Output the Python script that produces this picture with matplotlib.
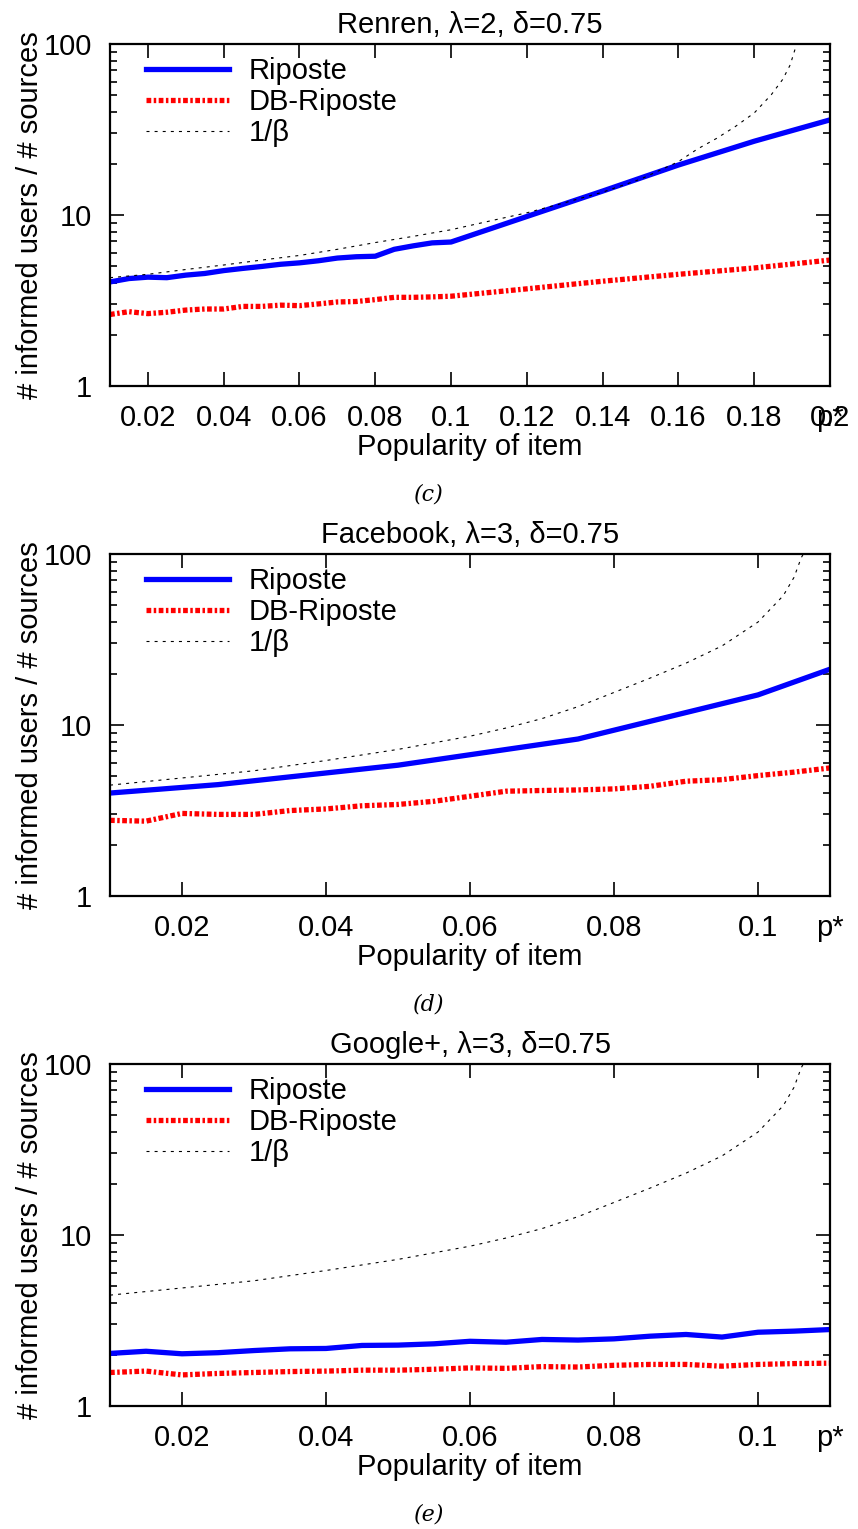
import numpy as np
import matplotlib
matplotlib.use("Agg")
import matplotlib.pyplot as plt
from matplotlib.ticker import FixedLocator, NullFormatter, LogLocator

plt.rcParams['font.family'] = ['Liberation Sans', 'DejaVu Sans']

# Renren, lambda=2
ren_x = [0.01, 0.015, 0.02, 0.025, 0.03, 0.035, 0.04, 0.045, 0.05, 0.055, 0.06, 0.065,
         0.07, 0.075, 0.08, 0.085, 0.09, 0.095, 0.1, 0.12, 0.14, 0.16, 0.18, 0.2]
ren_riposte = [4.06, 4.25, 4.33, 4.3, 4.45, 4.55, 4.73, 4.87, 5.0, 5.15, 5.25, 5.4,
               5.6, 5.7, 5.74, 6.3, 6.6, 6.87, 6.95, 9.8, 13.8, 19.6, 27.0, 36.0]
ren_db = [2.62, 2.72, 2.65, 2.7, 2.78, 2.82, 2.82, 2.92, 2.92, 2.97, 2.95, 3.02,
          3.1, 3.12, 3.2, 3.3, 3.3, 3.32, 3.35, 3.7, 4.1, 4.5, 4.9, 5.45]
ren_beta_x = [0.01, 0.02, 0.03, 0.04, 0.05, 0.06, 0.07, 0.08, 0.09, 0.1, 0.11, 0.12,
              0.13, 0.14, 0.15, 0.16, 0.165, 0.17, 0.175, 0.18, 0.1845, 0.1875, 0.1895, 0.1912]
ren_beta = [4.3, 4.5, 4.8, 5.1, 5.45, 5.8, 6.3, 6.9, 7.5, 8.2, 9.2, 10.3,
            11.8, 13.6, 16.2, 20.5, 24.3, 28.0, 32.9, 39.5, 50.5, 62.0, 75.5, 100.0]

# Facebook, lambda=3
fb_x = [0.01, 0.025, 0.05, 0.075, 0.1, 0.11]
fb_riposte = [4.0, 4.48, 5.82, 8.28, 15.0, 21.2]
fb_db_x = [0.01, 0.015, 0.02, 0.025, 0.03, 0.035, 0.04, 0.045, 0.05, 0.055, 0.06,
           0.065, 0.07, 0.075, 0.08, 0.085, 0.09, 0.095, 0.1, 0.105, 0.11]
fb_db = [2.77, 2.74, 3.04, 3.0, 3.0, 3.16, 3.23, 3.37, 3.43, 3.58, 3.83,
         4.1, 4.14, 4.17, 4.23, 4.38, 4.69, 4.79, 5.06, 5.3, 5.61]

# 1/beta for lambda=3 (Facebook and Google+)
l3_beta_x = [0.01, 0.02, 0.03, 0.04, 0.05, 0.06, 0.065, 0.07, 0.075, 0.08, 0.085,
             0.09, 0.095, 0.1, 0.1035, 0.105, 0.106, 0.1063]
l3_beta = [4.45, 4.9, 5.4, 6.2, 7.2, 8.6, 9.6, 10.9, 12.8, 15.5, 18.8,
           23.0, 29.0, 40.0, 57.0, 73.0, 95.0, 100.0]

# Google+, lambda=3
gp_x = [0.01, 0.015, 0.02, 0.025, 0.03, 0.035, 0.04, 0.045, 0.05, 0.055, 0.06,
        0.065, 0.07, 0.075, 0.08, 0.085, 0.09, 0.095, 0.1, 0.105, 0.11]
gp_riposte = [2.03, 2.09, 2.02, 2.05, 2.11, 2.16, 2.17, 2.26, 2.27, 2.31, 2.39,
              2.36, 2.45, 2.43, 2.47, 2.56, 2.62, 2.53, 2.7, 2.74, 2.8]
gp_db = [1.57, 1.6, 1.52, 1.55, 1.57, 1.59, 1.6, 1.62, 1.62, 1.64, 1.67,
         1.66, 1.7, 1.69, 1.73, 1.75, 1.75, 1.71, 1.75, 1.77, 1.78]

panels = [
    dict(title='Renren, λ=2, δ=0.75', tag='(c)', xmax=0.2,
         xticks=[0.02, 0.04, 0.06, 0.08, 0.1, 0.12, 0.14, 0.16, 0.18, 0.2],
         xlabels=['0.02', '0.04', '0.06', '0.08', '0.1', '0.12', '0.14', '0.16', '0.18', '0.2'],
         rx=ren_x, ry=ren_riposte, dx=ren_x, dy=ren_db, bx=ren_beta_x, by=ren_beta),
    dict(title='Facebook, λ=3, δ=0.75', tag='(d)', xmax=0.11,
         xticks=[0.02, 0.04, 0.06, 0.08, 0.1],
         xlabels=['0.02', '0.04', '0.06', '0.08', '0.1'],
         rx=fb_x, ry=fb_riposte, dx=fb_db_x, dy=fb_db, bx=l3_beta_x, by=l3_beta),
    dict(title='Google+, λ=3, δ=0.75', tag='(e)', xmax=0.11,
         xticks=[0.02, 0.04, 0.06, 0.08, 0.1],
         xlabels=['0.02', '0.04', '0.06', '0.08', '0.1'],
         rx=gp_x, ry=gp_riposte, dx=gp_x, dy=gp_db, bx=l3_beta_x, by=l3_beta),
]

fig = plt.figure(figsize=(8.58, 15.29), dpi=100)
W, H = 858, 1529
tops = [44, 554, 1064]
fs = 21

for p, top in zip(panels, tops):
    ax = fig.add_axes([110 / W, (H - top - 342) / H, 720 / W, 342 / H])
    ax.plot(p['rx'], p['ry'], color='#0000ff', lw=3.8, label='Riposte', solid_joinstyle='round')
    ax.plot(p['dx'], p['dy'], color='#ff0000', lw=3.8, dashes=(0.9, 0.47, 0.47, 0.47),
            label='DB-Riposte')
    ax.plot(p['bx'], p['by'], color='black', lw=0.8, dashes=(2.7, 4.6), label='1/β')
    ax.set_yscale('log')
    ax.set_ylim(1, 100)
    ax.set_xlim(0.01, p['xmax'])
    ax.xaxis.set_major_locator(FixedLocator(p['xticks']))
    ax.set_xticklabels(p['xlabels'])
    ax.yaxis.set_major_locator(FixedLocator([1, 10, 100]))
    ax.set_yticklabels(['1', '10', '100'])
    ax.yaxis.set_minor_locator(LogLocator(base=10, subs=np.arange(2, 10)))
    ax.yaxis.set_minor_formatter(NullFormatter())
    ax.tick_params(which='both', direction='in', top=True, right=True, labelsize=fs, width=1.2)
    ax.tick_params(axis='x', which='major', length=10, pad=13)
    ax.tick_params(axis='y', which='major', length=10, pad=13)
    ax.tick_params(axis='y', which='minor', length=5)
    for s in ax.spines.values():
        s.set_linewidth(1.6)
    ax.text(p['xmax'], -0.095, 'p*', transform=ax.get_xaxis_transform(),
            ha='center', va='center', fontsize=fs)
    ax.set_title(p['title'], fontsize=fs, pad=8)
    ax.set_xlabel('Popularity of item', fontsize=fs, labelpad=1)
    ax.set_ylabel('# informed users / # sources', fontsize=fs, labelpad=0)
    ax.legend(loc='upper left', frameon=False, fontsize=fs, handlelength=2.85,
              handletextpad=0.65, labelspacing=0.1, borderaxespad=0.2,
              bbox_to_anchor=(0.026, 1.012))
    fig.text(0.5, (H - top - 450) / H, p['tag'], ha='center', va='center',
             fontsize=16, style='italic', family='DejaVu Serif')

fig.savefig('out.png', dpi=100)
